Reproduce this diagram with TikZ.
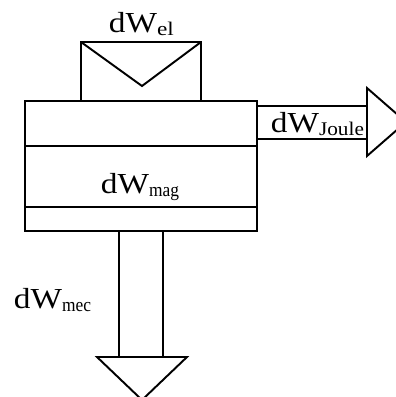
\documentclass[tikz,border=0pt]{standalone}
\usepackage{fontspec}
\usepackage{graphicx}
\setmainfont{Liberation Serif}[FakeStretch=1.15]
\newfontfamily\subfont{Liberation Serif}
\usetikzlibrary{positioning}

\def\lw{1.1pt}
% dW with a subscript, #1 = horizontal scale of the subscript
\newcommand{\flowlabel}[2]{dW\raisebox{-2pt}{\scalebox{#1}[1]{\fontsize{11}{13}\subfont #2}}}

\begin{document}
\begin{tikzpicture}[x=0.02cm, y=-0.02cm, line width=\lw,
    nodes = {font=\fontsize{16.5}{19}\selectfont, inner sep=0pt},
    lab/.style = {anchor=base west}]
  \useasboundingbox (0,0) rectangle (396,397);
  % input box with the V
  \draw (81,101) -- (81,42) -- (201,42) -- (201,101);
  \draw (81,42) -- (142,86) -- (201,42);
  % main block and its layers
  \draw (25,101) rectangle (257,231);
  \foreach \y in {146,207} {
    \draw (25,\y) -- (257,\y);        % layer lines
  }
  % right arrow (Joule)
  \draw (257,106) -- (367,106);
  \draw (257,139) -- (367,139);
  \draw (367,88) -- (406,122) -- (367,156) -- cycle;
  % bottom arrow (mechanical)
  \draw (119,231) -- (119,357);
  \draw (163,231) -- (163,357);
  \draw (97,357) -- (187,357) -- (142,400) -- cycle;
  % labels
  \node[lab] (el)    at (108,32)  {\flowlabel{1.2}{el}};
  \node[lab] (joule) at (270,132) {\flowlabel{1.1}{Joule}};
  \node[lab] (mag)   at (100,193) {\flowlabel{0.9}{mag}};
  \node[lab] (mec)   at (13,308)  {\flowlabel{0.9}{mec}};
\end{tikzpicture}
\end{document}
